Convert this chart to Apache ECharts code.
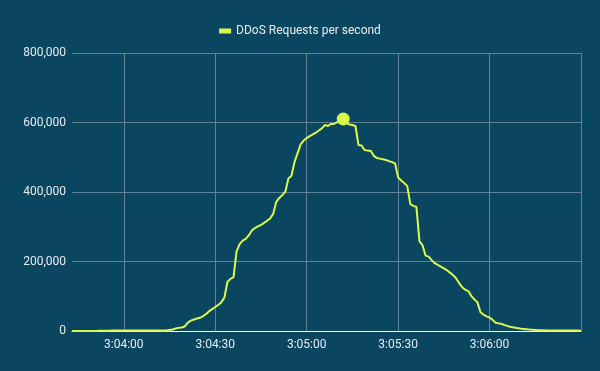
<!DOCTYPE html>
<html>
<head>
<meta charset="utf-8">
<script src="https://cdn.jsdelivr.net/npm/echarts@6/dist/echarts.min.js"></script>
<style>
html,body{margin:0;padding:0;background:#0b4660;}
#chart{width:600px;height:371px;}
</style>
</head>
<body>
<div id="chart"></div>
<script>
// Series name
const seriesName = 'DDoS Requests per second';
// Start time of the series (3:03:43), one sample per second
const startTime = [3, 3, 43];
// Requests per second, one value per second from 3:03:43 to 3:06:30
const requests = [
  0,0,0,0,0,0,0,0,0,800,
  900,1000,1000,1100,1100,1200,1200,1200,1300,1300,
  1300,1400,1400,1400,1500,1500,1500,1500,1500,1500,
  1500,1500,3000,4500,7000,9000,10000,13000,24000,30000,
  33000,36000,38000,43000,49000,57000,63000,69000,75000,83000,
  96000,141000,150000,155000,229000,250000,260000,265000,275000,289000,
  296000,301000,305000,311000,317000,324000,337000,371000,383000,391000,
  401000,439000,447000,486000,511000,537000,548000,555000,561000,566000,
  571000,577000,583000,593000,590000,596000,596000,601000,606000,610000,
  599000,594000,593000,590000,535000,534000,521000,519000,519000,504000,
  498000,496000,494000,492000,489000,486000,482000,442000,433000,426000,
  417000,365000,360000,357000,258000,247000,217000,214000,204000,195000,
  190000,185000,180000,175000,168000,161000,152000,138000,126000,119000,
  115000,101000,91000,83000,55000,47000,42000,39000,32000,24000,
  22000,20000,17000,14000,11500,10000,8500,7000,6000,5000,
  4000,3500,3000,2500,2000,1800,1600,1500,1500,1400,
  1400,1300,1300,1200,1200,1200,1100,1000
];
// X tick times (h, m, s)
const xTickTimes = [[3,4,0],[3,4,30],[3,5,0],[3,5,30],[3,6,0],[3,6,30]];
// Y axis ticks
const yTicks = [0, 200000, 400000, 600000, 800000];

// x values are seconds since midnight
function secs(h, m, s){ return h * 3600 + m * 60 + s; }
const base = secs(startTime[0], startTime[1], startTime[2]);
const seriesData = requests.map((v, i) => [base + i, v]);
const tMin = seriesData[0][0];
const tMax = seriesData[seriesData.length - 1][0];
const xTickValues = xTickTimes.map(t => secs(t[0], t[1], t[2]));

function pad(n){ return (n < 10 ? '0' : '') + n; }
function fmtTime(v){
  const h = Math.floor(v / 3600), m = Math.floor((v % 3600) / 60), s = Math.round(v % 60);
  return h + ':' + pad(m) + ':' + pad(s);
}

const chart = echarts.init(document.getElementById('chart'), null, {renderer: 'canvas'});
chart.setOption({
  backgroundColor: '#0b4660',
  animation: false,
  textStyle: {fontFamily: 'Roboto'},
  legend: {
    top: 20,
    left: 'center',
    icon: 'rect',
    itemWidth: 12,
    itemHeight: 5,
    textStyle: {color: '#e6ecef', fontSize: 12, fontFamily: 'Roboto'},
    data: [seriesName]
  },
  grid: {left: 72, right: 19, top: 53, bottom: 40, containLabel: false},
  xAxis: {
    type: 'value',
    min: tMin,
    max: tMax,
    axisLine: {show: true, onZero: false, lineStyle: {color: '#ffffff', width: 1}},
    axisTick: {show: false, customValues: xTickValues},
    splitLine: {show: true, lineStyle: {color: '#5e8397', width: 1}},
    axisLabel: {
      customValues: xTickValues,
      color: '#e6ecef', fontSize: 12, margin: 8,
      formatter: function (val) {
        if (val >= tMax) return '';
        return fmtTime(val);
      }
    }
  },
  yAxis: {
    type: 'value',
    min: yTicks[0],
    max: yTicks[yTicks.length - 1],
    interval: yTicks[1] - yTicks[0],
    axisLine: {show: false},
    axisTick: {show: false},
    splitLine: {show: true, lineStyle: {color: '#5e8397', width: 1}},
    axisLabel: {
      color: '#e6ecef', fontSize: 12, margin: 6,
      formatter: function (v) { return v.toLocaleString('en-US'); }
    }
  },
  series: [{
    name: seriesName,
    type: 'line',
    data: seriesData,
    showSymbol: false,
    symbol: 'none',
    lineStyle: {color: '#d9f84c', width: 2},
    itemStyle: {color: '#d9f84c'},
    markPoint: {
      symbol: 'circle',
      symbolSize: 13,
      label: {show: false},
      itemStyle: {color: '#d9f84c'},
      data: [{type: 'max'}]
    }
  }]
});
</script>
</body>
</html>
